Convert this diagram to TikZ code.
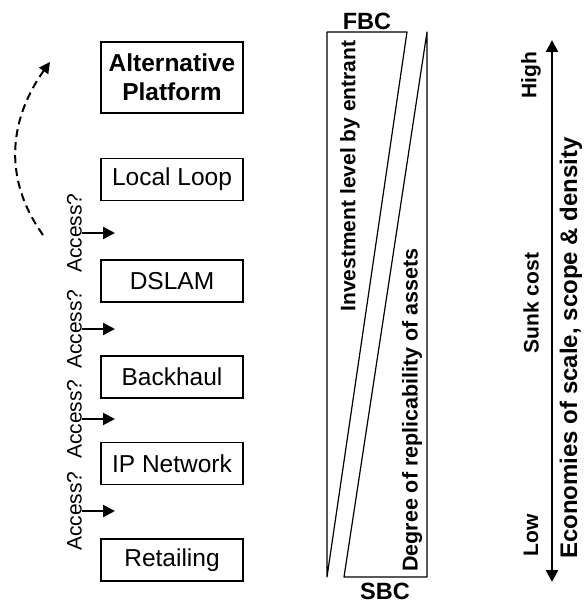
\documentclass[tikz,border=0pt]{standalone}
\usepackage{fontspec}
\setmainfont{Liberation Sans}
\usetikzlibrary{arrows.meta, positioning}

\begin{document}
\begin{tikzpicture}[
  x=1pt, y=-1pt,
  stage/.style={draw, line width=1.2pt, minimum width=142pt, minimum height=42pt, inner sep=0pt, font=\fontsize{24.5}{29}\selectfont},
  access/.style={rotate=90, anchor=south, inner sep=0pt, font=\fontsize{21}{25}\selectfont},
  sidetext/.style={rotate=90, inner sep=0pt, font=\bfseries\fontsize{21}{26}\selectfont},
  bctext/.style={inner sep=0pt, font=\bfseries\fontsize{23.5}{28}\selectfont},
  >={Triangle[length=12pt, width=12pt]}
]
  \useasboundingbox (0,0) rectangle (584,604);

  % value chain layers
  \node[stage, minimum height=71pt, align=center, font=\bfseries\fontsize{24.5}{29}\selectfont] (alt) at (172,77.5) {Alternative\\Platform};
  \node[stage] (loop) at (172,179.5) {Local Loop};
  \node[stage] (dslam) at (172,281) {DSLAM};
  \node[stage] (back) at (172,377) {Backhaul};
  \node[stage] (ipnet) at (172,463.5) {IP Network};
  \node[stage] (retail) at (172,560) {Retailing};

  % access points between layers
  \foreach \y [count=\i] in {233,329,419,511} {
    \node[access] (acc\i) at (82,\y) {Access?};
    \coordinate (tip\i) at (115,\y);
    \draw[->, line width=2pt] (acc\i.south) -- (tip\i);
  }

  % ladder of investment
  \coordinate (jumpfrom) at (43,235);
  \coordinate (jumpto) at (50,62);
  \draw[-{Triangle[length=11pt, width=11pt]}, dash pattern=on 8pt off 5pt, line width=2pt]
    (jumpfrom) .. controls (0,175) and (12,115) .. (jumpto);

  % FBC / SBC wedges
  \coordinate (tl) at (327,32);
  \coordinate (tm) at (407,32);
  \coordinate (bl) at (327,577);
  \coordinate (tr) at (427,32);
  \coordinate (br) at (427,577);
  \coordinate (bm) at (344,577);
  \draw[line width=1.2pt, line join=round] (tl) -- (tm) -- (bl) -- cycle;
  \draw[line width=1.2pt, line join=round] (tr) -- (br) -- (bm) -- cycle;
  \node[bctext] (fbc) at (367,21.5) {FBC};
  \node[bctext] (sbc) at (385,591) {SBC};
  \node[sidetext] (invest) at (350,176) {Investment level by entrant};
  \node[sidetext, font=\bfseries\fontsize{21.5}{26}\selectfont] (repl) at (412,410) {Degree of replicability of assets};

  % sunk cost scale
  \coordinate (hi) at (552,40);
  \coordinate (lo) at (552,582);
  \draw[<->, line width=2.4pt] (lo) -- (hi);
  \node[sidetext] (high) at (531,75) {High};
  \node[sidetext] (sunk) at (531,303) {Sunk cost};
  \node[sidetext] (low) at (531,535) {Low};
  \node[sidetext, font=\bfseries\fontsize{24}{28}\selectfont] (econ) at (571,348) {Economies of scale, scope \& density};
\end{tikzpicture}
\end{document}
